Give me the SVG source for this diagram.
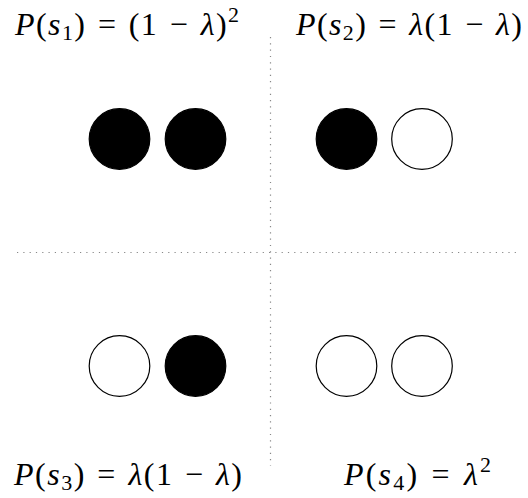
<svg xmlns="http://www.w3.org/2000/svg" width="528" height="498" viewBox="0 0 528 498">
<style>
.lbl{font-family:"Liberation Serif","DejaVu Serif",serif;font-size:32px;fill:#000;word-spacing:2px}
.i{font-style:italic}
.sub{font-size:22px}
.on{fill:#000;stroke:#000;stroke-width:1.2}
.off{fill:#fff;stroke:#000;stroke-width:1.2}
.div{stroke:#888;stroke-width:1.2;stroke-dasharray:1.2 5.1;fill:none}
</style>
<rect width="528" height="498" fill="#fff"/>
<g id="connectors">
<line class="div" x1="17" y1="252.5" x2="518" y2="252.5"/>
<line class="div" x1="270.5" y1="37" x2="270.5" y2="466"/>
</g>
<g id="s1">
<circle class="on" cx="119.5" cy="139" r="30.3"/>
<circle class="on" cx="195.5" cy="139" r="30.3"/>
<text class="lbl" x="15" y="35" textLength="224"><tspan class="i">P</tspan>(<tspan class="i">s</tspan><tspan class="sub" dy="5">1</tspan><tspan dy="-5">) = (1 − </tspan><tspan class="i">λ</tspan>)<tspan class="sub" dy="-13">2</tspan></text>
</g>
<g id="s2">
<circle class="on" cx="346.5" cy="139" r="30.3"/>
<circle class="off" cx="422" cy="139" r="30.3"/>
<text class="lbl" x="296" y="35" textLength="226"><tspan class="i">P</tspan>(<tspan class="i">s</tspan><tspan class="sub" dy="5">2</tspan><tspan dy="-5">) = </tspan><tspan class="i">λ</tspan>(1 − <tspan class="i">λ</tspan>)</text>
</g>
<g id="s3">
<circle class="off" cx="119.5" cy="366" r="30.3"/>
<circle class="on" cx="195.5" cy="366" r="30.3"/>
<text class="lbl" x="14" y="485" textLength="228"><tspan class="i">P</tspan>(<tspan class="i">s</tspan><tspan class="sub" dy="5">3</tspan><tspan dy="-5">) = </tspan><tspan class="i">λ</tspan>(1 − <tspan class="i">λ</tspan>)</text>
</g>
<g id="s4">
<circle class="off" cx="346.5" cy="366" r="30.3"/>
<circle class="off" cx="422" cy="366" r="30.3"/>
<text class="lbl" x="344" y="485" textLength="147"><tspan class="i">P</tspan>(<tspan class="i">s</tspan><tspan class="sub" dy="5">4</tspan><tspan dy="-5">) = </tspan><tspan class="i">λ</tspan><tspan class="sub" dy="-13">2</tspan></text>
</g>
</svg>
